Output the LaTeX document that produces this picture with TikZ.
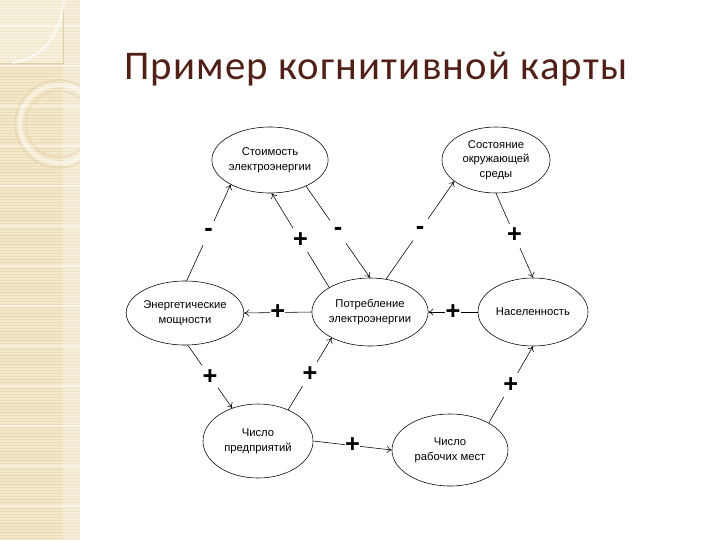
\documentclass[tikz,border=0pt]{standalone}
\usepackage{fontspec}
\setmainfont{Liberation Sans}
\newfontfamily\titlefont[LetterSpace=2.8]{Carlito}
\usetikzlibrary{arrows.meta,shapes.geometric}

\definecolor{strip}{RGB}{243,232,200}
\definecolor{stripline}{RGB}{233,219,182}
\definecolor{stripdark}{RGB}{222,206,165}
\definecolor{titlebrown}{RGB}{80,32,22}

\begin{document}
\begin{tikzpicture}[x=0.025cm,y=-0.025cm,>={To[length=3.5pt,width=5pt]},
      concept/.style={ellipse,draw,thin,inner sep=0pt,align=center,
        font=\fontsize{8}{10.5}\selectfont},
      sign/.style={fill=white,inner sep=0pt,minimum width=0.38cm,
        minimum height=0.6cm,font=\fontsize{18}{18}\selectfont\bfseries}]
      \useasboundingbox (0,0) rectangle (720,540);

      % side strip
      \fill[strip] (0,0) rectangle (80,540);
      \foreach \y in {1,4,...,538}
        \fill[stripline] (0,\y) rectangle (80,\y+1);
      \foreach \y in {25,65,...,540}
        \fill[white,opacity=.5] (0,\y) rectangle (80,\y+1.5);
      \fill[white,opacity=.3] (63,0) rectangle (80,540);
      \fill[white,opacity=.35] (0,0) rectangle (63,63);
      \draw[stripdark] (63,0) -- (63,63) -- (0,63);
      \begin{scope}
        \clip (0,0) rectangle (80,540);
        \draw[white,opacity=.7,line width=1.5pt] (64,0) .. controls (60,38) and (42,58) .. (12,63);
        \draw[white,opacity=.5,line width=3pt] (59,124) circle (39);
        \draw[stripdark] (59,124) circle (44);
        \draw[stripdark] (59,124) circle (33);
      \end{scope}

      \node[anchor=base west,inner sep=0pt,text=titlebrown,
        font=\titlefont\fontsize{29}{29}\selectfont] (title) at (124,79)
        {Пример когнитивной карты};

      \node[concept,minimum width=2.9cm,minimum height=1.65cm] (cost) at (270,160)
        {Стоимость\\электроэнергии};
      \node[concept,minimum width=2.7cm,minimum height=1.65cm] (env) at (496,160)
        {Состояние\\окружающей\\среды};
      \node[concept,minimum width=2.9cm,minimum height=1.6cm] (power) at (185,313)
        {Энергетические\\мощности};
      \node[concept,minimum width=2.9cm,minimum height=1.7cm] (use) at (370,312)
        {Потребление\\электроэнергии};
      \node[concept,minimum width=2.75cm,minimum height=1.7cm] (pop) at (533,312)
        {Населенность};
      \node[concept,minimum width=2.75cm,minimum height=1.85cm] (firms) at (258,441)
        {Число\\предприятий};
      \node[concept,minimum width=2.9cm,minimum height=1.8cm] (jobs) at (450,450)
        {Число\\рабочих мест};

      \path[->]
      (power.87) edge node [sign] {-} (cost.212)
      (use.149) edge node [sign] {+} (cost.273)
      (cost.324) edge node [sign] {-} (use.90)
      (use.64) edge node [sign] {-} (env.207)
      (env.270) edge node [sign] {+} (pop.90)
      (use.180) edge node [sign] {+} (power.0)
      (pop.180) edge node [sign] {+} (use.0)
      (power.275) edge node [sign] {+} (firms.128)
      (firms.46) edge node [sign] {+} (use.214)
      (firms.0) edge node [sign] {+} (jobs.180)
      (jobs.35) edge node [sign] {+} (pop.270)
      ;
\end{tikzpicture}
\end{document}
